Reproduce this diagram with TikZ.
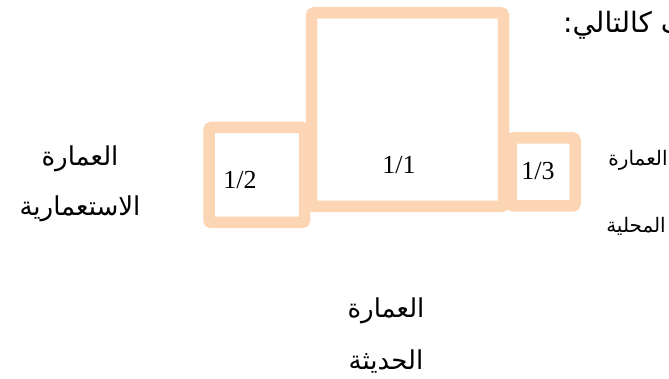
\documentclass[tikz,border=0pt]{standalone}
\usepackage{fontspec}
\TeXXeTstate=1
\newfontfamily\arabicfont[Script=Arabic]{DejaVu Sans}
\newfontfamily\numfont{Liberation Serif}
\definecolor{peach}{HTML}{FCD5B4}
\tikzset{
  sq/.style={draw=peach, line width=11.5pt, rounded corners=2.5pt, inner sep=0pt, fill=none},
  num/.style={anchor=base, inner sep=0pt, font=\numfont\fontsize{26}{30}\selectfont},
  arbig/.style={anchor=base, inner sep=0pt, font=\arabicfont\fontsize{26}{30}\selectfont},
  arsmall/.style={anchor=base, inner sep=0pt, font=\arabicfont\fontsize{20}{24}\selectfont},
  artop/.style={anchor=base west, inner sep=0pt, font=\arabicfont\fontsize{28}{32}\selectfont}
}
\begin{document}
\begin{tikzpicture}[x=1pt,y=-1pt]
\clip (0,0) rectangle (669,379);
\useasboundingbox (0,0) rectangle (669,379);
% squares
\node[sq, minimum width=95.5pt, minimum height=95pt] (left) at (256.75,175) {};
\node[sq, minimum width=64pt, minimum height=68pt] (right) at (543,172) {};
\node[sq, minimum width=192pt, minimum height=193.5pt] (big) at (407.5,109.75) {};
% numbers
\node[num] (n11) at (399,174) {1/1};
\node[num] (n12) at (240,189) {1/2};
\node[num] (n13) at (538,180) {1/3};
% labels
\node[arbig] (l1) at (80,166) {\beginR العمارة\endR};
\node[arbig] (l2) at (80,216) {\beginR الاستعمارية\endR};
\node[arbig] (b1) at (386,317) {\beginR العمارة\endR};
\node[arbig] (b2) at (386,369) {\beginR الحديثة\endR};
\node[arsmall] (r1) at (638,166) {\beginR العمارة\endR};
\node[arsmall] (r2) at (636,233) {\beginR المحلية\endR};
\node[artop] (top) at (563,33) {\beginR ف كالتالي:\endR};
\end{tikzpicture}
\end{document}
